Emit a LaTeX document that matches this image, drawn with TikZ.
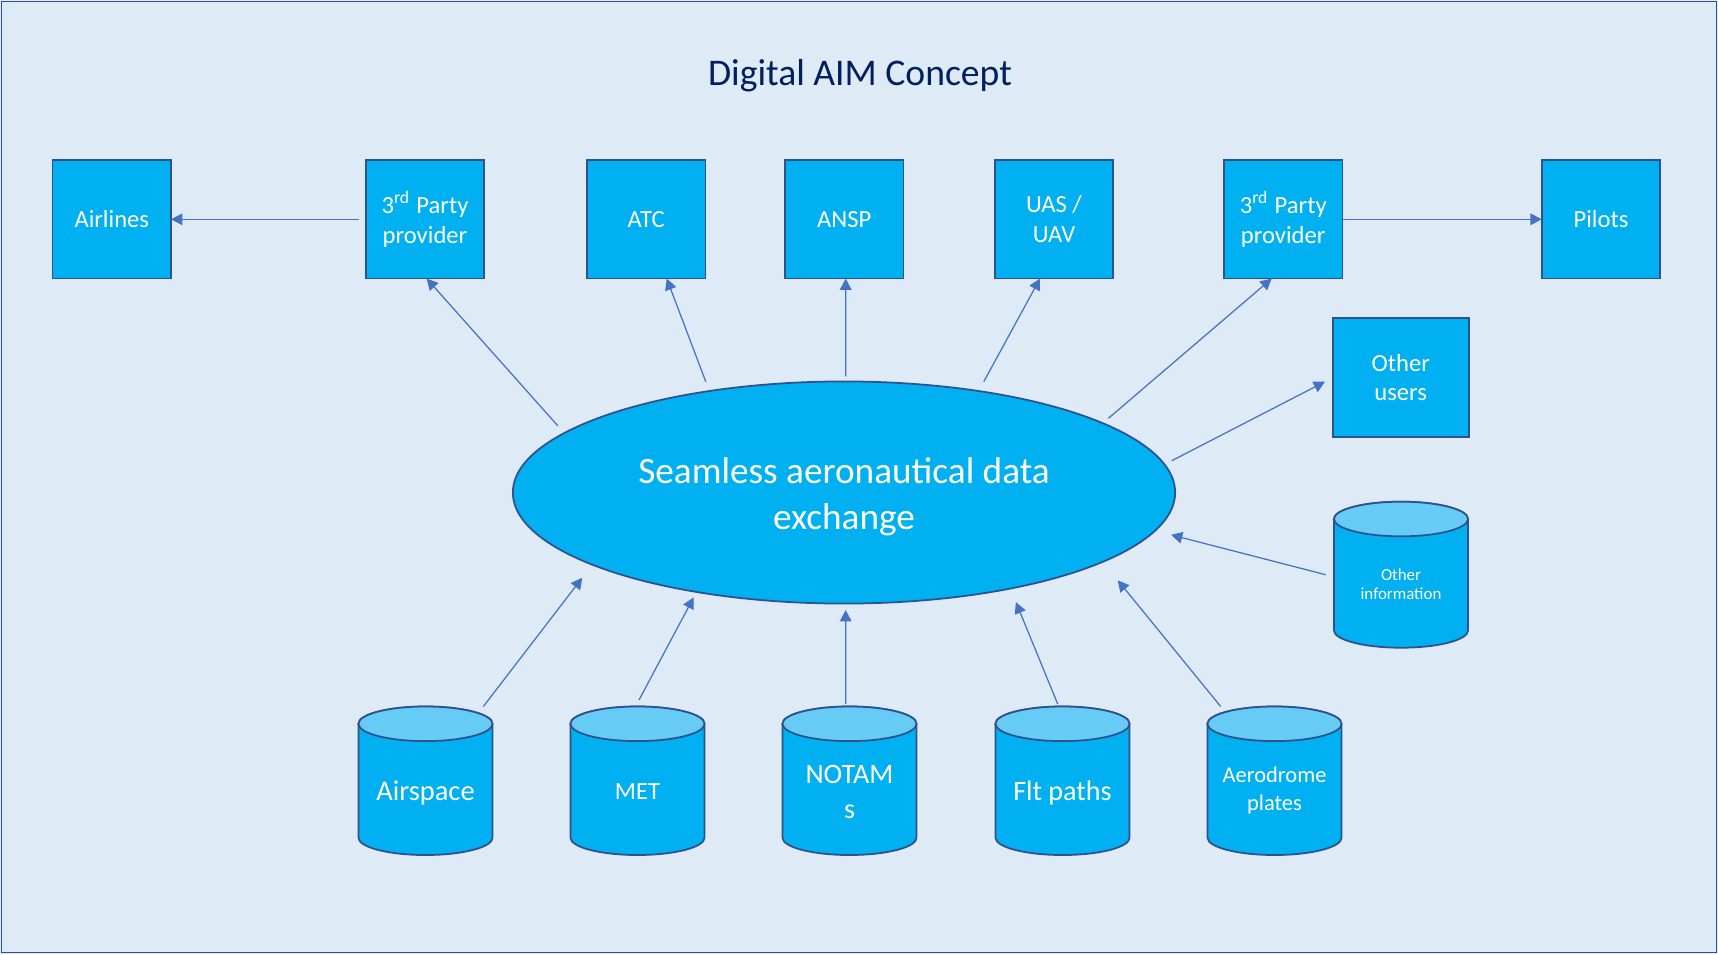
\documentclass[tikz,border=0pt]{standalone}
\usepackage{fontspec}
\setmainfont{Carlito}
\usetikzlibrary{arrows.meta,calc,shapes.geometric}
\definecolor{bgc}{HTML}{DEEBF7}
\definecolor{boxc}{HTML}{00B0F0}
\definecolor{bordc}{HTML}{2F528F}
\definecolor{topc}{HTML}{66CCF5}
\definecolor{arrc}{HTML}{4472C4}
\definecolor{titc}{HTML}{002060}
\tikzset{
  ubox/.style={rectangle, draw=bordc, fill=boxc, line width=0.5pt, minimum width=1.185cm, minimum height=1.185cm, inner sep=0pt, outer sep=0pt, text=white, align=center, font=\fontsize{7}{8.5}\selectfont},
  arr/.style={draw=arrc, line width=0.35pt, -{Triangle[length=3.2pt,width=3.3pt]}},
  cylnode/.style={rectangle, inner sep=0pt, outer sep=0pt, minimum width=1.34cm},
  cyltxt/.style={text=white, align=center, inner sep=0pt},
}
\newcommand{\dbcyl}[7]{%
  \path[fill=boxc, draw=bordc, line width=0.5pt] ({#2-67},{#3+17.3}) -- ({#2-67},{#4-17.3})
    arc[start angle=180,end angle=360,x radius=0.67cm,y radius=0.173cm] -- ({#2+67},{#3+17.3})
    arc[start angle=0,end angle=180,x radius=0.67cm,y radius=0.173cm] -- cycle;
  \draw[fill=topc, draw=bordc, line width=0.5pt] (#2,{#3+17.3}) ellipse[x radius=0.67cm, y radius=0.173cm];
  \node[cylnode, minimum height={(#4-#3)*0.01cm}] (#1) at (#2,{(#3+#4)/2}) {};
  \node[cyltxt, font={#6}] (#1-t) at (#2,#5) {#7};
}
\begin{document}
\begin{tikzpicture}[x=0.01cm,y=-0.01cm]
\useasboundingbox (0,0) rectangle (1718,954);
\fill[bgc] (0,0) rectangle (1718,954);
\draw[bordc, line width=0.5pt] (1.5,1.5) rectangle (1716.5,952.5);

\node[font=\fontsize{10.7}{13}\selectfont, text=titc, anchor=base, inner sep=0pt] (title) at (860,85) {Digital AIM Concept};

\node[ubox] (air) at (111.8,219.3) {Airlines};
\node[ubox] (p3l) at (425,219.3) {3\textsuperscript{rd} Party\\provider};
\node[ubox] (atc) at (646.2,219.3) {ATC};
\node[ubox] (ansp) at (844.3,219.3) {ANSP};
\node[ubox] (uas) at (1054,219.3) {UAS /\\UAV};
\node[ubox] (p3r) at (1283.2,219.3) {3\textsuperscript{rd} Party\\provider};
\node[ubox] (pil) at (1601,219.3) {Pilots};
\node[ubox, minimum width=1.36cm] (ou) at (1400.7,377.5) {Other\\users};

\node[ellipse, draw=bordc, fill=boxc, line width=0.5pt, minimum width=6.62cm, minimum height=2.22cm, inner sep=0pt, outer sep=0pt] (ell) at (844,492.5) {};
\node[text=white, align=center, inner sep=0pt, font=\fontsize{10.6}{13.2}\selectfont] (ell-t) at (844,497) {Seamless aeronautical data\\exchange};

\dbcyl{asp}{425.5}{706.5}{855}{793}{\fontsize{8.1}{10}\selectfont}{Airspace}
\dbcyl{met}{637.5}{706.5}{855}{792}{\fontsize{7}{8.5}\selectfont}{MET}
\dbcyl{ntm}{849.5}{706.5}{855}{792}{\fontsize{8}{10}\selectfont}{NOTAM\\s}
\dbcyl{flt}{1062.5}{706.5}{855}{793}{\fontsize{8}{10}\selectfont}{Flt paths}
\dbcyl{aer}{1274.5}{706.5}{855}{790.5}{\fontsize{6.4}{7.8}\selectfont}{Aerodrome\\plates}
\dbcyl{oth}{1401}{501.7}{647.7}{584}{\fontsize{4.8}{5.5}\selectfont}{Other\\information}

\draw[arr] ([xshift=-0.07cm]p3l.west) -- (air.east);
\draw[arr] (p3r.east) -- (pil.west);
\draw[arr, shorten <=0.097cm] (ell.168.7) -- ([xshift=0.017cm]p3l.south);
\draw[arr, shorten <=0.10cm] (ell.143) -- ([xshift=0.205cm]atc.south);
\draw[arr, shorten <=0.05cm] ([xshift=0.017cm]ell.north) -- ([xshift=0.014cm]ansp.south);
\draw[arr, shorten <=0.106cm] (ell.37.27) -- ([xshift=-0.14cm]uas.south);
\draw[arr, shorten <=0.075cm] (ell.15.63) -- ([xshift=-0.115cm]p3r.south);
\draw[arr, shorten <=0.081cm] (ell.5.98) -- ([xshift=-0.077cm,yshift=-0.042cm]ou.west);
\draw[arr, shorten >=0.166cm] ([xshift=-0.083cm]oth.west) -- (ell.353.36);
\draw[arr, shorten >=0.165cm] ([xshift=0.578cm]asp.north) -- (ell.196.58);
\draw[arr, shorten >=0.061cm] ([xshift=0.015cm,yshift=0.065cm]met.north) -- (ell.214.7);
\draw[arr, shorten >=0.065cm] ([xshift=-0.038cm,yshift=0.025cm]ntm.north) -- ([xshift=0.017cm]ell.south);
\draw[arr, shorten >=0.147cm] ([xshift=-0.048cm,yshift=0.025cm]flt.north) -- (ell.330.56);
\draw[arr, shorten >=0.238cm] ([xshift=-0.538cm]aer.north) -- (ell.345.12);
\end{tikzpicture}
\end{document}
